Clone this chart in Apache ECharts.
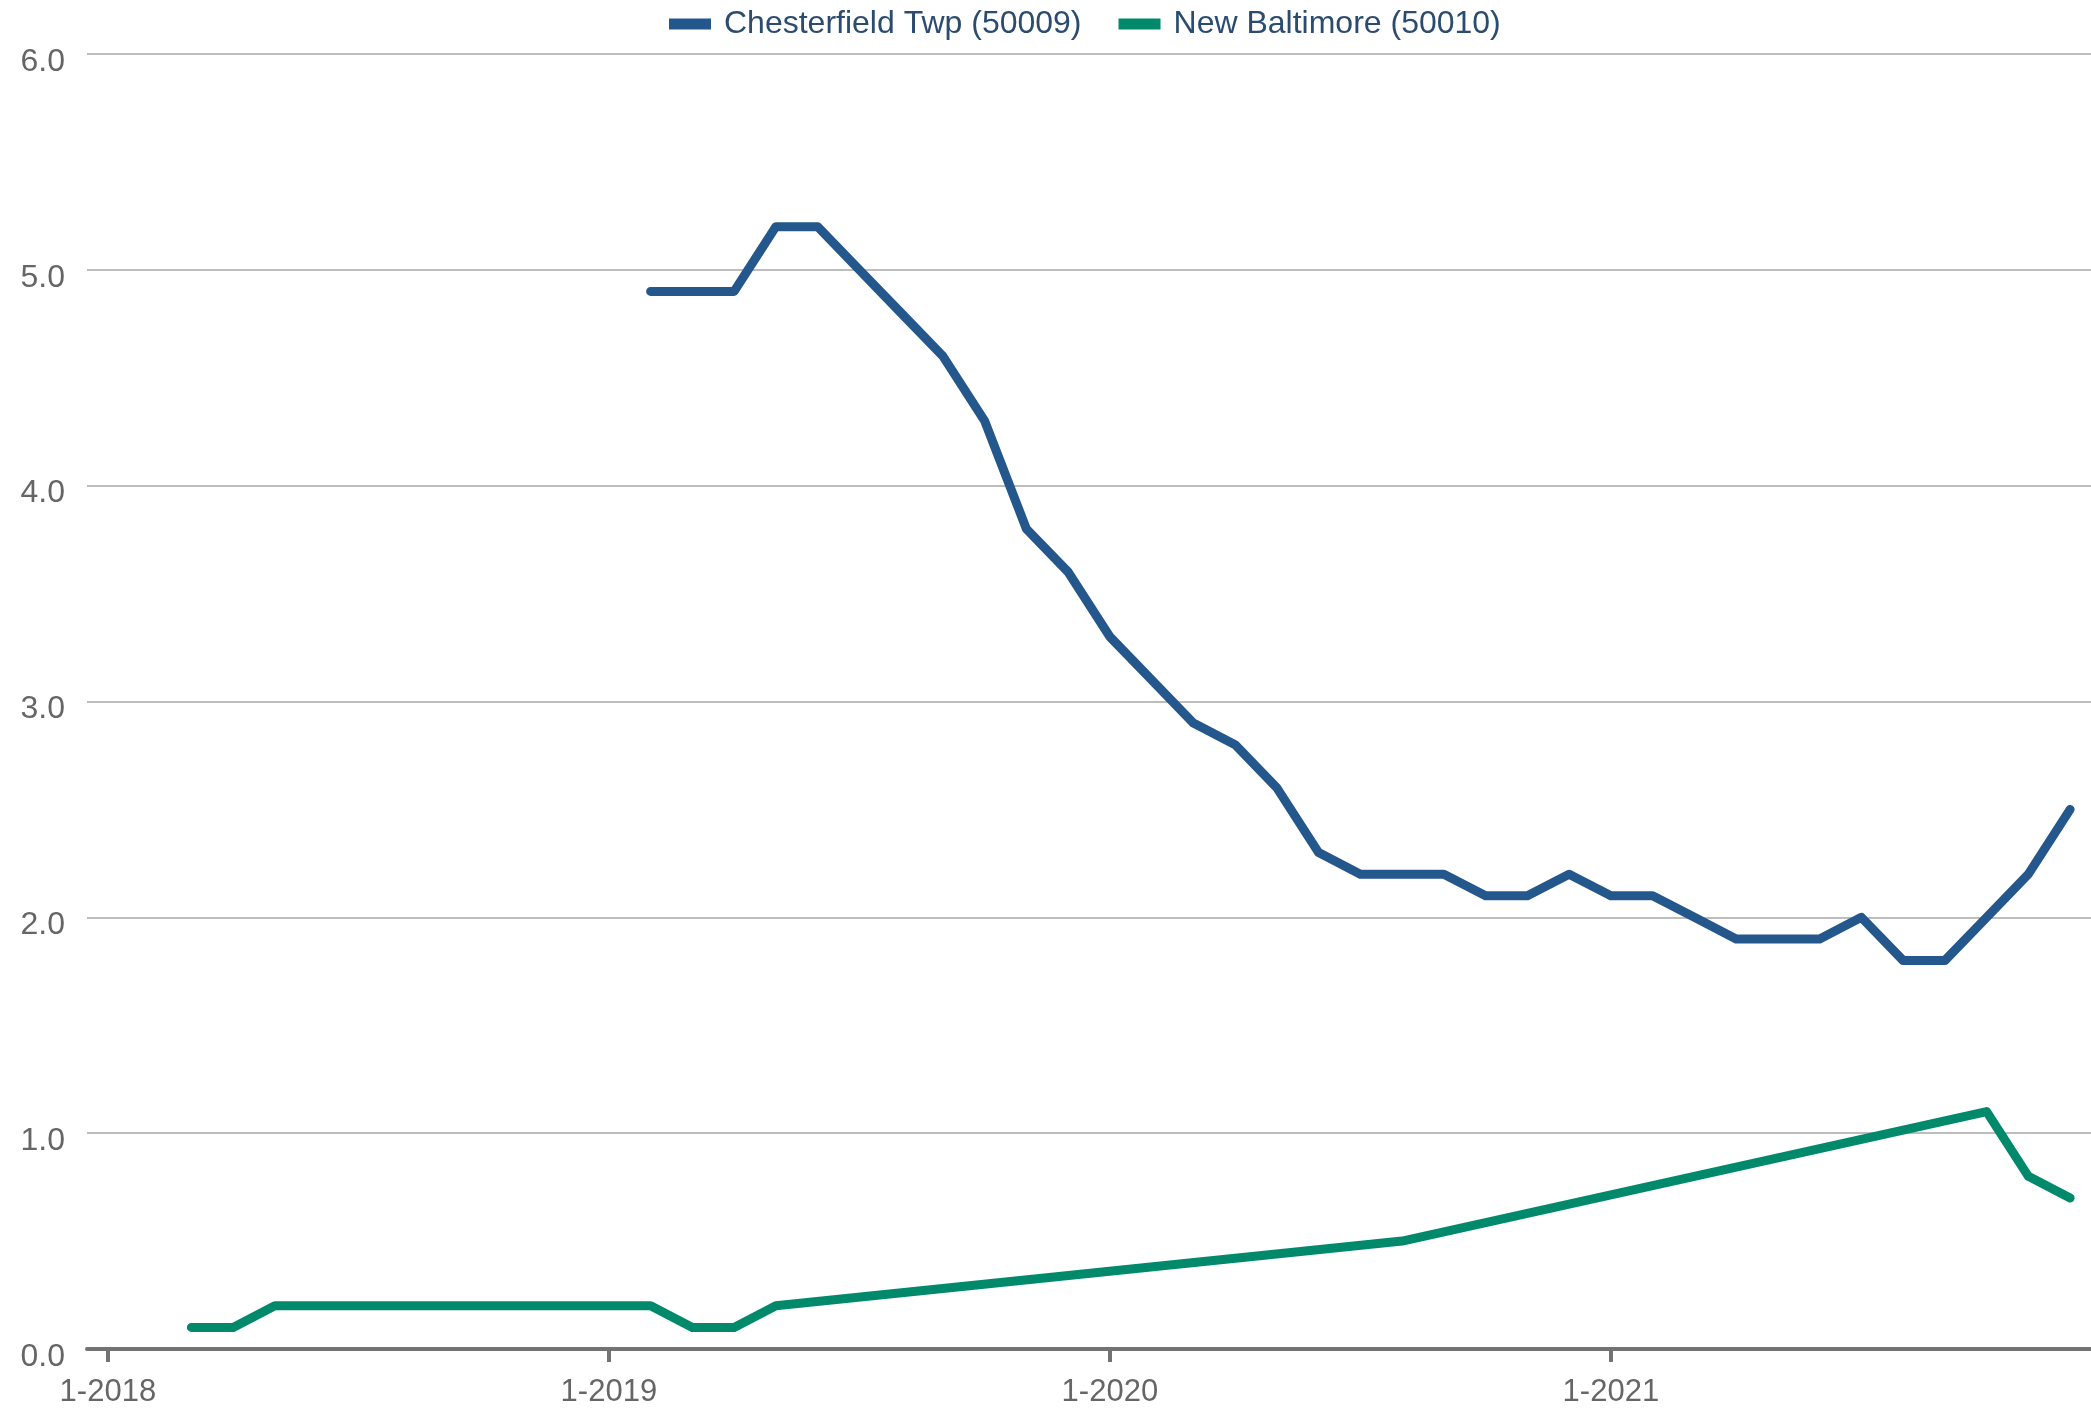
<!DOCTYPE html>
<html>
<head>
<meta charset="utf-8">
<script src="https://cdn.jsdelivr.net/npm/echarts@6/dist/echarts.min.js"></script>
<style>
html,body{margin:0;padding:0;background:#fff;}
#chart{width:2091px;height:1414px;}
</style>
</head>
<body>
<div id="chart"></div>
<script>
// Month index 0 = Jan 2018 ... 47 = Dec 2021
const startYear = 2018;
const monthCount = 48;
const tickMonths = [0, 12, 24, 36];
const yTicks = [0, 1, 2, 3, 4, 5, 6];

const seriesNames = ['Chesterfield Twp (50009)', 'New Baltimore (50010)'];

// null = no value (Chesterfield starts Feb 2019)
const chesterfield = [
  null, null, null, null, null, null, null, null, null, null, null, null,
  null, 4.9, 4.9, 4.9, 5.2, 5.2, 5.0, 4.8, 4.6, 4.3, 3.8, 3.6,
  3.3, 3.1, 2.9, 2.8, 2.6, 2.3, 2.2, 2.2, 2.2, 2.1, 2.1, 2.2,
  2.1, 2.1, 2.0, 1.9, 1.9, 1.9, 2.0, 1.8, 1.8, 2.0, 2.2, 2.5
];
// gaps (null) are bridged by straight lines as in the reference
const newBaltimore = [
  null, null, 0.1, 0.1, 0.2, 0.2, 0.2, 0.2, 0.2, 0.2, 0.2, 0.2,
  0.2, 0.2, 0.1, 0.1, 0.2, null, null, null, null, null, null, null,
  null, null, null, null, null, null, null, 0.5, null, null, null, null,
  null, null, null, null, null, null, null, null, null, 1.1, 0.8, 0.7
];

function toPairs(arr) {
  const out = [];
  arr.forEach((v, i) => { if (v !== null) out.push([i, v]); });
  return out;
}

const chart = echarts.init(document.getElementById('chart'), null, {renderer: 'canvas'});
const font = 'Liberation Sans, Arial, sans-serif';
chart.setOption({
  animation: false,
  textStyle: {fontFamily: font},
  legend: {
    top: 3,
    left: 664,
    itemWidth: 42,
    itemHeight: 11,
    itemGap: 37,
    icon: 'rect',
    textStyle: {fontSize: 32, color: '#2b4c70', fontFamily: font, padding: [0, 0, 0, 8]},
    data: seriesNames
  },
  grid: {left: 87, right: -3, top: 54, bottom: 1414 - 1349, containLabel: false},
  xAxis: {
    type: 'value',
    min: -0.5,
    max: 47.5,
    splitLine: {show: false},
    axisLine: {show: true, lineStyle: {color: '#737373', width: 4}},
    axisTick: {show: true, customValues: tickMonths, length: 13, lineStyle: {color: '#737373', width: 4}},
    axisLabel: {
      customValues: tickMonths,
      margin: 28,
      fontSize: 31,
      color: '#666',
      fontFamily: font,
      formatter: v => '1-' + (startYear + Math.round(v / 12))
    }
  },
  yAxis: {
    type: 'value',
    min: 0,
    max: 6,
    interval: 1,
    axisLine: {show: false},
    axisTick: {show: false},
    splitLine: {show: true, lineStyle: {color: '#bdbdbd', width: 2}},
    axisLabel: {
      margin: 22,
      fontSize: 32,
      color: '#666',
      fontFamily: font,
      verticalAlign: 'top',
      lineHeight: 16,
      formatter: v => v.toFixed(1)
    }
  },
  series: [
    {
      name: seriesNames[0],
      type: 'line',
      data: toPairs(chesterfield),
      showSymbol: false,
      symbol: 'none',
      connectNulls: true,
      itemStyle: {color: '#24578b'},
      lineStyle: {color: '#24578b', width: 9, cap: 'round', join: 'round'},
      z: 3
    },
    {
      name: seriesNames[1],
      type: 'line',
      data: toPairs(newBaltimore),
      showSymbol: false,
      symbol: 'none',
      connectNulls: true,
      itemStyle: {color: '#008a6b'},
      lineStyle: {color: '#008a6b', width: 9, cap: 'round', join: 'round'},
      z: 3
    }
  ]
});
</script>
</body>
</html>
